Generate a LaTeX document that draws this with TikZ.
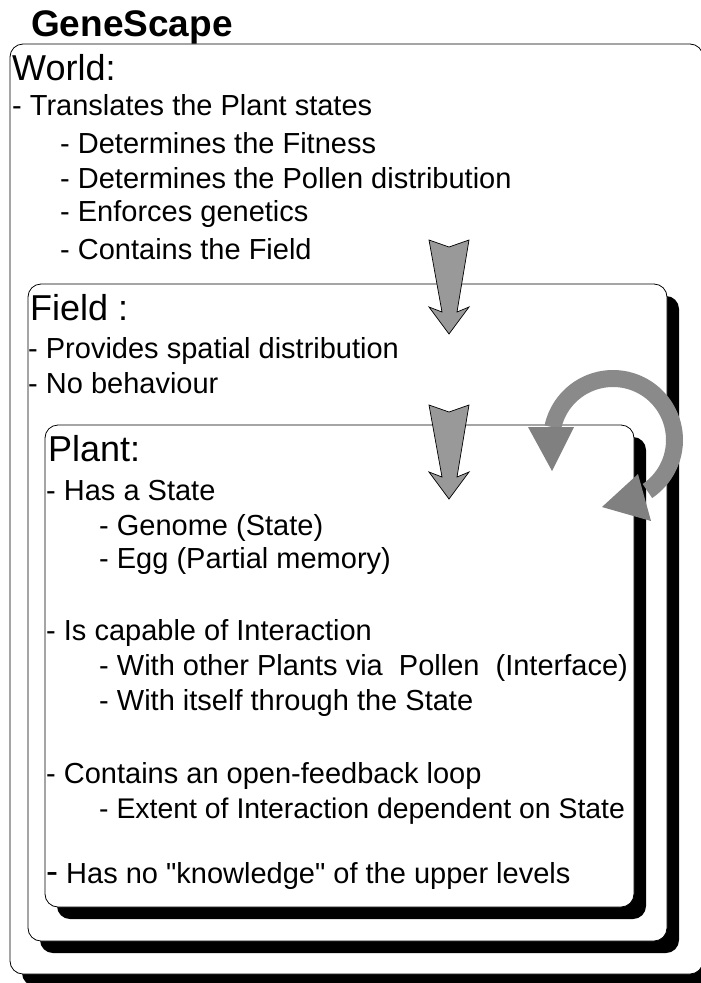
\documentclass[tikz,border=0pt]{standalone}
\usepackage{fontspec}
\setmainfont{Liberation Sans}
\newfontfamily\qfont{Liberation Sans}
\definecolor{arrowgray}{RGB}{153,153,153}
\definecolor{arcgray}{RGB}{138,138,138}
\definecolor{headgray}{RGB}{128,128,128}
\newcommand{\fs}[1]{\fontsize{#1}{#1}\selectfont}
\begin{document}
\begin{tikzpicture}[x=1pt,y=-1pt,
  box/.style={draw=black, line width=0.8pt, fill=white, rounded corners=13pt},
  shadowbox/.style={fill=black, rounded corners=13pt},
  txt/.style={anchor=base west, inner sep=0pt, font=\fs{29}},
  hdr/.style={anchor=base west, inner sep=0pt, font=\fs{36}},
  ttl/.style={anchor=base west, inner sep=0pt, font=\fs{37}\bfseries},
  downarrow/.style={fill=arrowgray, draw=black, line width=0.7pt, line join=miter},
]
\useasboundingbox (0,0) rectangle (701,983);
% boxes with shadows
\fill[shadowbox] (22,56) rectangle (715,986);
\draw[box] (10,44) rectangle (703,974);
\fill[shadowbox] (40,296) rectangle (679,953);
\draw[box] (28,284) rectangle (667,941);
\fill[shadowbox] (57,437) rectangle (646,919);
\draw[box] (45,425) rectangle (634,907);
% texts
\node[ttl] (title) at (31,36) {GeneScape};
\node[hdr] (world) at (12,80) {World:};
\node[txt] (w1) at (12,115) {- Translates the Plant states};
\node[txt] (w2) at (60,153) {- Determines the Fitness};
\node[txt] (w3) at (60,188) {- Determines the Pollen distribution};
\node[txt] (w4) at (60,221) {- Enforces genetics};
\node[txt] (w5) at (60,259) {- Contains the Field};
\node[hdr] (field) at (30,320) {Field :};
\node[txt] (f1) at (28,358) {- Provides spatial distribution};
\node[txt] (f2) at (28,393) {- No behaviour};
\node[hdr] (plant) at (48,461) {Plant:};
\node[txt] (p1) at (46,500) {- Has a State};
\node[txt] (p2) at (99,535) {- Genome (State)};
\node[txt] (p3) at (99,568) {- Egg (Partial memory)};
\node[txt] (p4) at (46,640) {- Is capable of Interaction};
\node[txt] (p5) at (99,675) {- With other Plants via\ \ Pollen\ \ (Interface)};
\node[txt] (p6) at (99,710) {- With itself through the State};
\node[txt] (p7) at (46,783) {- Contains an open-feedback loop};
\node[txt, font=\fs{28.4}] (p8) at (99,818) {- Extent of Interaction dependent on State};
\node[txt] (p9) at (46,883) {{\fs{36}-} Has no {\qfont"}knowledge{\qfont"} of the upper levels};
% down arrows
\foreach \dy in {0,165}{
  \draw[downarrow] (429,240+\dy) -- (449,247+\dy) -- (469,240+\dy) -- (457,312+\dy)
     -- (469,307+\dy) -- (449,334+\dy) -- (429,307+\dy) -- (442,312+\dy) -- cycle;
}
% circular double arrow
\fill[arcgray] plot[domain=192:416, samples=80] ({613+70*cos(\x)},{440+70*sin(\x)})
   -- plot[domain=416:192, samples=80] ({613+53*cos(\x)},{440+53*sin(\x)}) -- cycle;
\fill[headgray] (528,427) -- (574,427) -- (552,471) -- cycle;
\fill[headgray] (638,474) -- (651,521) -- (602,507) -- cycle;
\end{tikzpicture}
\end{document}
